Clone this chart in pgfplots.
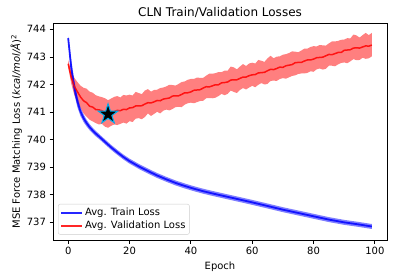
\documentclass[border=0pt]{standalone}
\usepackage{pgfplots}
\pgfplotsset{compat=1.18}
\usepackage{pgfplotstable}
\usepgfplotslibrary{fillbetween}
\usepackage{fontspec}
\setmainfont{DejaVu Sans}

\pgfdeclareplotmark{fstar}{%
  \pgfpathmoveto{\pgfpointpolar{90}{\pgfplotmarksize}}%
  \pgfpathlineto{\pgfpointpolar{126}{0.381\pgfplotmarksize}}%
  \pgfpathlineto{\pgfpointpolar{162}{\pgfplotmarksize}}%
  \pgfpathlineto{\pgfpointpolar{198}{0.381\pgfplotmarksize}}%
  \pgfpathlineto{\pgfpointpolar{234}{\pgfplotmarksize}}%
  \pgfpathlineto{\pgfpointpolar{270}{0.381\pgfplotmarksize}}%
  \pgfpathlineto{\pgfpointpolar{306}{\pgfplotmarksize}}%
  \pgfpathlineto{\pgfpointpolar{342}{0.381\pgfplotmarksize}}%
  \pgfpathlineto{\pgfpointpolar{18}{\pgfplotmarksize}}%
  \pgfpathlineto{\pgfpointpolar{54}{0.381\pgfplotmarksize}}%
  \pgfpathclose
  \pgfusepathqfillstroke
}

\pgfplotstableread{
e m lo hi
0 743.68 743.62 743.74
1 742.60 742.30 742.90
2 741.90 741.65 742.15
3 741.38 741.18 741.58
4 741.02 740.86 741.18
5 740.78 740.64 740.92
6 740.60 740.48 740.72
7 740.45 740.34 740.56
8 740.33 740.23 740.43
9 740.22 740.12 740.32
10 740.12 740.03 740.21
11 740.02 739.93 740.11
12 739.92 739.83 740.01
13 739.82 739.73 739.91
14 739.72 739.63 739.81
15 739.63 739.54 739.72
16 739.54 739.45 739.63
18 739.37 739.28 739.46
20 739.22 739.13 739.31
23 739.03 738.94 739.12
26 738.86 738.77 738.95
29 738.70 738.61 738.79
32 738.56 738.47 738.65
35 738.43 738.34 738.52
38 738.32 738.23 738.41
41 738.22 738.13 738.31
44 738.13 738.04 738.22
47 738.05 737.96 738.14
51 737.95 737.86 738.04
55 737.85 737.76 737.94
59 737.75 737.66 737.84
64 737.62 737.53 737.71
70 737.46 737.37 737.55
75 737.34 737.25 737.43
80 737.22 737.13 737.31
85 737.10 737.01 737.19
90 737.00 736.91 737.09
95 736.92 736.83 737.01
99 736.85 736.76 736.94
}\train

\pgfplotstableread{
e m lo hi
0 742.75 742.63 742.87
1 742.26 742.03 742.47
2 741.93 741.62 742.24
3 741.74 741.36 742.09
4 741.55 741.16 741.96
5 741.41 740.95 741.88
6 741.34 740.83 741.85
7 741.21 740.72 741.74
8 741.18 740.66 741.70
9 741.09 740.60 741.61
10 741.08 740.55 741.57
11 741.05 740.57 741.54
12 740.99 740.47 741.50
13 740.92 740.43 741.43
14 741.01 740.50 741.49
15 741.02 740.55 741.55
16 741.06 740.53 741.58
17 741.05 740.57 741.53
18 741.10 740.62 741.62
19 741.09 740.58 741.60
20 741.15 740.67 741.63
21 741.16 740.64 741.60
22 741.22 740.76 741.73
23 741.22 740.78 741.69
24 741.23 740.74 741.65
25 741.29 740.82 741.78
26 741.34 740.95 741.83
27 741.33 740.86 741.74
28 741.37 740.93 741.80
29 741.42 741.01 741.81
30 741.41 740.95 741.87
31 741.47 741.05 741.89
32 741.49 741.09 741.93
33 741.51 741.06 741.99
34 741.58 741.11 741.98
35 741.59 741.18 741.96
36 741.59 741.19 742.02
37 741.64 741.18 742.09
38 741.70 741.27 742.11
39 741.70 741.32 742.17
40 741.73 741.34 742.20
41 741.79 741.32 742.20
42 741.80 741.36 742.25
43 741.81 741.40 742.24
44 741.87 741.41 742.24
45 741.92 741.50 742.32
46 741.91 741.51 742.39
47 741.95 741.50 742.39
48 741.99 741.52 742.41
49 741.99 741.58 742.45
50 742.06 741.66 742.45
51 742.07 741.61 742.50
52 742.09 741.66 742.50
53 742.16 741.78 742.65
54 742.17 741.73 742.62
55 742.17 741.69 742.55
56 742.22 741.80 742.65
57 742.27 741.87 742.74
58 742.27 741.82 742.67
59 742.32 741.89 742.76
60 742.35 741.95 742.79
61 742.36 741.90 742.76
62 742.42 741.99 742.89
63 742.43 742.05 742.86
64 742.44 742.00 742.82
65 742.50 742.02 742.95
66 742.55 742.13 743.04
67 742.54 742.14 742.95
68 742.58 742.13 743.01
69 742.63 742.20 743.02
70 742.62 742.23 743.08
71 742.68 742.21 743.10
72 742.70 742.26 743.14
73 742.72 742.31 743.20
74 742.79 742.33 743.19
75 742.80 742.38 743.17
76 742.80 742.40 743.23
77 742.85 742.40 743.30
78 742.89 742.42 743.30
79 742.89 742.48 743.36
80 742.92 742.46 743.39
81 742.97 742.55 743.38
82 742.98 742.58 743.43
83 742.99 742.54 743.42
84 743.04 742.57 743.41
85 743.09 742.68 743.49
86 743.08 742.68 743.56
87 743.12 742.66 743.56
88 743.16 742.73 743.58
89 743.16 742.78 743.62
90 743.24 742.80 743.63
91 743.25 742.77 743.68
92 743.26 742.84 743.67
93 743.32 742.92 743.81
94 743.33 742.88 743.78
95 743.32 742.89 743.70
96 743.36 742.97 743.79
97 743.40 742.93 743.87
98 743.39 742.95 743.79
99 743.43 743.02 743.87
}\val

\begin{document}
\begin{tikzpicture}
\begin{axis}[
  at={(0pt,0pt)}, anchor=south west,
  scale only axis, width=334pt, height=217pt,
  xmin=-4.95, xmax=103.95, ymin=736.36, ymax=744.23,
  xtick={0,20,...,100}, ytick={737,738,...,744},
  xtick pos=lower, ytick pos=left,
  tick align=outside, major tick length=3.5pt,
  every tick/.style={black, line width=0.8pt},
  axis line style={line width=0.8pt},
  /pgf/number format/assume math mode=true,
  /pgf/number format/1000 sep={},
  tick label style={font=\fontsize{10}{12}\selectfont},
  label style={font=\fontsize{10}{12}\selectfont},
  title style={font=\fontsize{12}{14}\selectfont, yshift=-4pt},
  ylabel style={xshift=0pt, yshift=-2pt},
  title={CLN Train/Validation Losses},
  xlabel={Epoch},
  ylabel={MSE Force Matching Loss (\textit{kcal/mol/Å})\textsuperscript{2}},
  legend style={at={(0.015,0.025)}, anchor=south west, draw=black!20,
    rounded corners=2pt, font=\fontsize{10}{12}\selectfont,
    inner sep=2pt, row sep=0pt},
  legend cell align=left,
  legend image code/.code={\draw[#1] (0pt,0pt) -- (21pt,0pt);},
]
\addplot[draw=none, name path=vlo, forget plot] table[x=e, y=lo] {\val};
\addplot[draw=none, name path=vhi, forget plot] table[x=e, y=hi] {\val};
\addplot[red, fill opacity=0.5, draw=none, forget plot] fill between[of=vlo and vhi];
\addplot[draw=none, name path=tlo, forget plot] table[x=e, y=lo] {\train};
\addplot[draw=none, name path=thi, forget plot] table[x=e, y=hi] {\train};
\addplot[blue, fill opacity=0.5, draw=none, forget plot] fill between[of=tlo and thi];
\addplot[blue, opacity=0.85, line width=1.8pt, mark=none] table[x=e, y=m] {\train};
\addlegendentry{Avg. Train Loss}
\addplot[red, opacity=0.85, line width=1.5pt, mark=none] table[x=e, y=m] {\val};
\addlegendentry{Avg. Validation Loss}
\addplot[only marks, mark=fstar, mark size=10.5pt, mark options={fill=black, draw=cyan, line width=1pt}, forget plot] coordinates {(13,740.92)};
\end{axis}
\pgfresetboundingbox
\useasboundingbox (-53pt,-38pt) rectangle (342pt,240pt);
\end{tikzpicture}
\end{document}
